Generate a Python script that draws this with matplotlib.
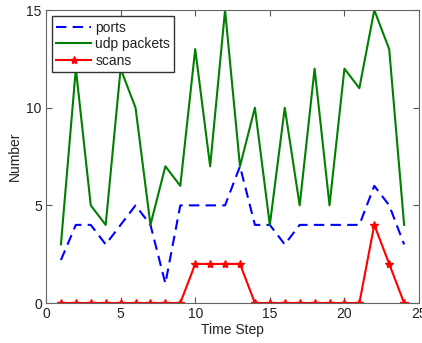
import matplotlib
matplotlib.use("Agg")
import matplotlib.pyplot as plt

plt.rcParams['font.family'] = ['Liberation Sans', 'DejaVu Sans']

steps = list(range(1, 25))
ports = [2.2, 4, 4, 3, 4, 5, 4, 1, 5, 5, 5, 5, 7, 4, 4, 3, 4, 4, 4, 4, 4, 6, 5, 3]
udp = [3, 12, 5, 4, 12, 10, 4, 7, 6, 13, 7, 15, 7, 10, 4, 10, 5, 12, 5, 12, 11, 15, 13, 4]
scans = [0, 0, 0, 0, 0, 0, 0, 0, 0, 2, 2, 2, 2, 0, 0, 0, 0, 0, 0, 0, 0, 4, 2, 0]

fig = plt.figure(figsize=(4.22, 3.43), dpi=100)
ax = fig.add_axes([0.109, 0.1166, 0.884, 0.854])
ax.plot(steps, ports, '--', color='#0000ff', lw=1.5, dashes=(5, 3), label='ports')
ax.plot(steps, udp, '-', color='#008000', lw=1.5, label='udp packets')
ax.plot(steps, scans, '-', color='#ff0000', lw=1.5, marker='*', ms=6, label='scans')

ax.set_xlim(0, 25)
ax.set_ylim(0, 15)
ax.set_xticks([0, 5, 10, 15, 20, 25])
ax.set_yticks([0, 5, 10, 15])
ax.tick_params(direction='in', top=True, right=True, labelsize=10, length=4,
               color='#555555', labelcolor='#222222', pad=3)
for s in ax.spines.values():
    s.set_color('#666666')
ax.set_xlabel('Time Step', fontsize=10, labelpad=1, color='#222222')
ax.set_ylabel('Number', fontsize=10, labelpad=3, color='#222222')
leg = ax.legend(loc='upper left', fontsize=10, fancybox=False, edgecolor='#333333',
                framealpha=1, borderpad=0.3, labelspacing=0.2, handlelength=2.5,
                handletextpad=0.3, borderaxespad=0.45)
for t in leg.get_texts():
    t.set_color('#222222')
leg.get_frame().set_linewidth(1.0)
fig.savefig('out.png', dpi=100)
